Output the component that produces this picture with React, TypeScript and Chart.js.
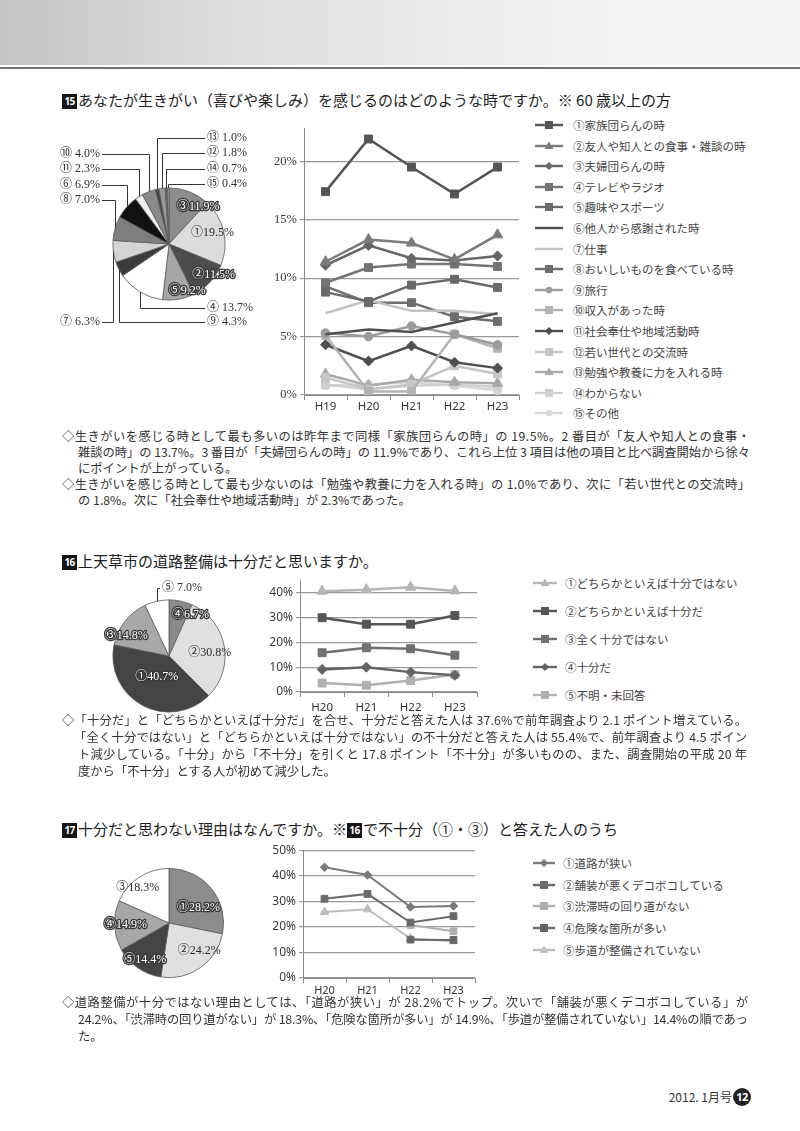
import React, { useEffect, useLayoutEffect, useRef } from 'react';
import { Chart, registerables } from 'chart.js';

Chart.register(...registerables);

const SANS = '"Noto Sans CJK JP", "Noto Sans", sans-serif';
const SERIF = '"Liberation Serif", "DejaVu Serif", "Noto Sans CJK JP", serif';
const LATIN = '"Noto Sans", "Open Sans", sans-serif';

/* ---------------- Q15 data ---------------- */
const q15Years = ['H19', 'H20', 'H21', 'H22', 'H23'];
const q15Names = [
  '①家族団らんの時', '②友人や知人との食事・雑談の時', '③夫婦団らんの時', '④テレビやラジオ',
  '⑤趣味やスポーツ', '⑥他人から感謝された時', '⑦仕事', '⑧おいしいものを食べている時', '⑨旅行',
  '⑩収入があった時', '⑪社会奉仕や地域活動時', '⑫若い世代との交流時', '⑬勉強や教養に力を入れる時',
  '⑭わからない', '⑮その他',
];
const q15Family = [17.4, 21.9, 19.5, 17.2, 19.5];
const q15Friends = [11.4, 13.3, 13.0, 11.6, 13.7];
const q15Couple = [11.1, 12.8, 11.7, 11.5, 11.9];
const q15TvRadio = [9.6, 10.9, 11.2, 11.2, 11.0];
const q15Hobby = [8.8, 8.0, 9.4, 9.9, 9.2];
const q15Thanked = [5.2, 5.6, 5.4, 6.2, 7.0];
const q15Work = [7.0, 8.1, 7.2, 7.2, 6.9];
const q15Food = [9.3, 7.9, 7.9, 6.7, 6.3];
const q15Travel = [5.3, 5.0, 5.9, 5.2, 4.3];
const q15Income = [5.1, 0.3, 0.3, 5.2, 4.0];
const q15Volunteer = [4.3, 2.9, 4.2, 2.8, 2.3];
const q15Youth = [1.5, 0.5, 0.9, 2.5, 1.8];
const q15Study = [1.8, 0.8, 1.3, 1.1, 1.0];
const q15DontKnow = [0.9, 0.5, 0.8, 0.9, 0.7];
const q15Other = [0.8, 0.9, 1.1, 0.8, 0.4];
const q15Series = [q15Family, q15Friends, q15Couple, q15TvRadio, q15Hobby, q15Thanked, q15Work, q15Food,
  q15Travel, q15Income, q15Volunteer, q15Youth, q15Study, q15DontKnow, q15Other];
const q15Colors = ['#555555', '#7a7a7a', '#666666', '#747474', '#6a6a6a', '#505050', '#c2c2c2', '#6e6e6e',
  '#9c9c9c', '#b4b4b4', '#4e4e4e', '#c6c6c6', '#a9a9a9', '#d0d0d0', '#d8d8d8'];
const q15Styles = ['rect', 'triangle', 'rectRot', 'rect', 'rect', 'none', 'none', 'rect', 'circle', 'rect',
  'rectRot', 'rect', 'triangle', 'rect', 'circle'];

// pie (clockwise from 12 o'clock)
const q15PieNames = ['③', '①', '②', '⑤', '④', '⑨', '⑦', '⑧', '⑥', '⑪', '⑩', '⑬', '⑫', '⑭', '⑮'];
const q15PieValues = [11.9, 19.5, 11.5, 9.2, 13.7, 4.3, 6.3, 7.0, 6.9, 2.3, 4.0, 1.0, 1.8, 0.7, 0.4];
const q15PieColors = ['#8c8c8c', '#dcdcdc', '#4d4d4d', '#a6a6a6', '#ffffff', '#3c3c3c', '#d4d4d4', '#7f7f7f',
  '#111111', '#efefef', '#8a8a8a', '#444444', '#999999', '#666666', '#bbbbbb'];

/* ---------------- Q16 data ---------------- */
const q16Years = ['H20', 'H21', 'H22', 'H23'];
const q16Names = ['①どちらかといえば十分ではない', '②どちらかといえば十分だ', '③全く十分ではない', '④十分だ', '⑤不明・未回答'];
const q16RatherNot = [40.6, 41.2, 42.2, 40.7];
const q16RatherYes = [29.9, 27.3, 27.3, 30.8];
const q16NotAtAll = [15.8, 17.8, 17.4, 14.8];
const q16Enough = [9.1, 10.0, 8.0, 6.7];
const q16Unknown = [3.6, 2.7, 4.6, 7.0];
const q16Series = [q16RatherNot, q16RatherYes, q16NotAtAll, q16Enough, q16Unknown];
const q16Colors = ['#b5b5b5', '#555555', '#707070', '#636363', '#b0b0b0'];
const q16Styles = ['triangle', 'rect', 'rect', 'rectRot', 'rect'];

const q16PieNames = ['④', '②', '①', '③', '⑤'];
const q16PieValues = [6.7, 30.8, 40.7, 14.8, 7.0];
const q16PieColors = ['#8a8a8a', '#e0e0e0', '#444444', '#a8a8a8', '#ffffff'];

/* ---------------- Q17 data ---------------- */
const q17Years = ['H20', 'H21', 'H22', 'H23'];
const q17Names = ['①道路が狭い', '②舗装が悪くデコボコしている', '③渋滞時の回り道がない', '④危険な箇所が多い', '⑤歩道が整備されていない'];
const q17Narrow = [43.3, 40.3, 27.8, 28.2];
const q17Bumpy = [31.0, 32.9, 21.7, 24.2];
const q17NoDetour = [null, null, 20.7, 18.3];
const q17Danger = [null, null, 15.0, 14.9];
const q17Sidewalk = [25.8, 26.9, 15.4, 14.4];
const q17Series = [q17Narrow, q17Bumpy, q17NoDetour, q17Danger, q17Sidewalk];
const q17Colors = ['#7a7a7a', '#6a6a6a', '#b0b0b0', '#666666', '#bdbdbd'];
const q17Styles = ['rectRot', 'rect', 'rect', 'rect', 'triangle'];

const q17PieNames = ['①', '②', '⑤', '④', '③'];
const q17PieValues = [28.2, 24.2, 14.4, 14.9, 18.3];
const q17PieColors = ['#8c8c8c', '#e0e0e0', '#444444', '#a8a8a8', '#ffffff'];

/* ---------------- helpers ---------------- */
type InLbl = { i: number; dx: number; dy: number; white: boolean };
type OutLbl = { i: number; x: number; y: number; side: 'left' | 'right' };
type Box = { x: number; y: number; w: number; h: number };

function makePieLabels(names: string[], values: number[], box: Box, inside: InLbl[], outside: OutLbl[], font: string, outFont: string) {
  return {
    id: 'pieLabels',
    afterDatasetsDraw(chart: any) {
      const ctx = chart.ctx as CanvasRenderingContext2D;
      const meta = chart.getDatasetMeta(0);
      ctx.save();
      ctx.textBaseline = 'middle';
      ctx.font = font;
      ctx.lineJoin = 'round';
      for (const l of inside) {
        const a: any = meta.data[l.i];
        const mid = (a.startAngle + a.endAngle) / 2;
        const rr = a.outerRadius * 0.65;
        const x = a.x + Math.cos(mid) * rr + l.dx;
        const y = a.y + Math.sin(mid) * rr + l.dy;
        const t = `${names[l.i]}${values[l.i].toFixed(1)}%`;
        ctx.textAlign = 'center';
        if (l.white) {
          ctx.lineWidth = 2.6;
          ctx.strokeStyle = '#3a3a3a';
          ctx.strokeText(t, x, y);
          ctx.fillStyle = '#ffffff';
        } else {
          ctx.fillStyle = '#2a2a2a';
        }
        ctx.fillText(t, x, y);
      }
      ctx.font = outFont;
      ctx.textAlign = 'left';
      ctx.strokeStyle = '#333';
      ctx.fillStyle = '#333';
      ctx.lineWidth = 1;
      for (const l of outside) {
        const a: any = meta.data[l.i];
        const mid = (a.startAngle + a.endAngle) / 2;
        const ex = Math.round(a.x + Math.cos(mid) * a.outerRadius) + 0.5;
        const ey = a.y + Math.sin(mid) * a.outerRadius;
        const tx = l.x - box.x;
        const ty = l.y - box.y;
        const t = `${names[l.i]} ${values[l.i].toFixed(1)}%`;
        const w = ctx.measureText(t).width;
        ctx.fillText(t, tx, ty);
        const lx = l.side === 'left' ? tx + w + 2 : tx - 2;
        const ly = Math.round(ty) + 0.5;
        ctx.beginPath();
        ctx.moveTo(lx, ly);
        ctx.lineTo(ex, ly);
        ctx.lineTo(ex, ey);
        ctx.stroke();
      }
      ctx.restore();
    },
  };
}

function pieConfig(names: string[], values: number[], colors: string[], box: Box, cx: number, cy: number, r: number, plugin: any) {
  return {
    type: 'pie' as const,
    data: {
      labels: names,
      datasets: [{ data: values, backgroundColor: colors, borderColor: '#5a5a5a', borderWidth: 0.8 }],
    },
    options: {
      animation: false as const,
      responsive: false,
      maintainAspectRatio: false,
      layout: {
        padding: {
          left: cx - r - box.x,
          top: cy - r - box.y,
          right: box.x + box.w - (cx + r),
          bottom: box.y + box.h - (cy + r),
        },
      },
      plugins: { legend: { display: false }, tooltip: { enabled: false } },
    },
    plugins: [plugin],
  };
}

function pointRadius(style: string, scale: number) {
  if (style === 'none') return 0;
  if (style === 'rect') return 5.6 * scale;
  if (style === 'triangle') return 6 * scale;
  if (style === 'rectRot') return 5 * scale;
  return 4.3 * scale;
}

function lineDatasets(names: string[], series: (number | null)[][], colors: string[], styles: string[], width: number, scale: number) {
  return series.map((d, k) => ({
    label: names[k],
    data: d,
    borderColor: colors[k],
    backgroundColor: colors[k],
    pointBackgroundColor: colors[k],
    pointBorderColor: colors[k],
    pointBorderWidth: 1,
    borderWidth: width,
    pointStyle: styles[k] === 'none' ? 'circle' : styles[k],
    pointRadius: pointRadius(styles[k], scale),
    tension: 0,
    spanGaps: false,
  }));
}

function lineConfig(p: {
  labels: string[]; datasets: any[]; max: number; step: number; labelEvery: number;
  yWidth: number; xHeight: number; padTop: number; padRight: number; yFont: any; xPad: number; xSize: number;
}) {
  return {
    type: 'line' as const,
    data: { labels: p.labels, datasets: p.datasets },
    options: {
      animation: false as const,
      responsive: false,
      maintainAspectRatio: false,
      layout: { padding: { top: p.padTop, right: p.padRight, left: 0, bottom: 0 } },
      plugins: { legend: { display: false }, tooltip: { enabled: false } },
      scales: {
        x: {
          type: 'category' as const,
          offset: true,
          grid: { offset: true, drawOnChartArea: false, drawTicks: true, tickLength: 5, color: '#8a8a8a' },
          border: { display: true, color: '#8a8a8a', width: 1 },
          ticks: { font: { family: LATIN, size: p.xSize }, color: '#333', padding: p.xPad, maxRotation: 0, autoSkip: false },
          afterFit: (s: any) => { s.height = p.xHeight; },
        },
        y: {
          min: 0,
          max: p.max,
          ticks: {
            stepSize: p.step,
            includeBounds: false,
            font: p.yFont,
            color: '#3a3a3a',
            padding: 3,
            callback: (v: any) => (Math.round(v) % p.labelEvery === 0 ? `${v}%` : ''),
          },
          grid: { color: '#9a9a9a', lineWidth: 1.2, drawTicks: true, tickLength: 4 },
          border: { display: true, color: '#8a8a8a', width: 1 },
          afterFit: (s: any) => { s.width = p.yWidth; },
        },
      },
    },
  };
}

/* ---------------- layout ---------------- */
const P15: Box = { x: 40, y: 125, w: 262, h: 215 };
const L15: Box = { x: 258, y: 118, w: 268, h: 300 };
const P16: Box = { x: 95, y: 578, w: 160, h: 140 };
const L16: Box = { x: 250, y: 570, w: 235, h: 145 };
const P17: Box = { x: 95, y: 860, w: 150, h: 125 };
const L17: Box = { x: 250, y: 840, w: 235, h: 160 };

function Marker({ color, style, w }: { color: string; style: string; w: number }) {
  const cx = w / 2;
  const cy = 6;
  let shape: any = null;
  if (style === 'rect') shape = <rect x={cx - 4} y={cy - 4} width={8} height={8} fill={color} />;
  if (style === 'triangle') shape = <polygon points={`${cx},${cy - 4.5} ${cx + 4.5},${cy + 3} ${cx - 4.5},${cy + 3}`} fill={color} />;
  if (style === 'rectRot') shape = <polygon points={`${cx},${cy - 4} ${cx + 4},${cy} ${cx},${cy + 4} ${cx - 4},${cy}`} fill={color} />;
  if (style === 'circle') shape = <circle cx={cx} cy={cy} r={3.3} fill={color} />;
  return (
    <svg width={w} height={12} style={{ display: 'block', flex: 'none' }}>
      <line x1={0} y1={cy} x2={w} y2={cy} stroke={color} strokeWidth={2.4} />
      {shape}
    </svg>
  );
}

function Legend({ names, colors, styles, x, textX, y0, dy, markerW }: any) {
  return (
    <>
      {names.map((n: string, k: number) => (
        <div key={k} style={{ position: 'absolute', left: x, top: y0 + k * dy - 9, height: 18, display: 'flex', alignItems: 'center', whiteSpace: 'nowrap' }}>
          <Marker color={colors[k]} style={styles[k]} w={markerW} />
          <span style={{ marginLeft: textX - x - markerW, fontSize: 11.5, color: '#444', lineHeight: '18px' }}>{n}</span>
        </div>
      ))}
    </>
  );
}

function Badge({ n }: { n: string }) {
  return (
    <span style={{
      display: 'inline-block', background: '#151515', color: '#fff', fontSize: 10, fontWeight: 700,
      width: 15, height: 15, lineHeight: '15px', textAlign: 'center', verticalAlign: '1px', letterSpacing: -0.6,
      fontFamily: LATIN, marginRight: 1,
    }}>{n}</span>
  );
}

function Title({ y, children }: any) {
  return (
    <div style={{ position: 'absolute', left: 62, top: y - 10, height: 20, lineHeight: '20px', fontSize: 15, color: '#1e1e1e', whiteSpace: 'nowrap' }}>
      {children}
    </div>
  );
}

function TextLine({ x, right, y, text, full }: { x: number; right: number; y: number; text: string; full?: boolean }) {
  return (
    <div style={{
      position: 'absolute', left: x, top: y - 9, height: 18, lineHeight: '18px', fontSize: 12.3,
      color: '#333', whiteSpace: 'nowrap',
    }}>
      <span data-fit={full ? String(right - x) : undefined} style={{ display: 'inline-block', whiteSpace: 'nowrap' }}>{text}</span>
    </div>
  );
}

const q15Text = [
  { x: 62, y: 436, full: true, t: '◇生きがいを感じる時として最も多いのは昨年まで同様「家族団らんの時」の 19.5%。2 番目が「友人や知人との食事・' },
  { x: 78, y: 452, full: true, t: '雑談の時」の 13.7%。3 番目が「夫婦団らんの時」の 11.9%であり、これら上位 3 項目は他の項目と比べ調査開始から徐々' },
  { x: 78, y: 468, full: false, t: 'にポイントが上がっている。' },
  { x: 62, y: 484, full: true, t: '◇生きがいを感じる時として最も少ないのは「勉強や教養に力を入れる時」の 1.0%であり、次に「若い世代との交流時」' },
  { x: 78, y: 500, full: false, t: 'の 1.8%。次に「社会奉仕や地域活動時」が 2.3%であった。' },
];
const q16Text = [
  { x: 62, y: 720, full: true, t: '◇「十分だ」と「どちらかといえば十分だ」を合せ、十分だと答えた人は 37.6%で前年調査より 2.1 ポイント増えている。' },
  { x: 74, y: 737, full: true, t: '「全く十分ではない」と「どちらかといえば十分ではない」の不十分だと答えた人は 55.4%で、前年調査より 4.5 ポイン' },
  { x: 78, y: 754, full: true, t: 'ト減少している。「十分」から「不十分」を引くと 17.8 ポイント「不十分」が多いものの、また、調査開始の平成 20 年' },
  { x: 78, y: 771, full: false, t: '度から「不十分」とする人が初めて減少した。' },
];
const q17Text = [
  { x: 62, y: 1002, full: true, t: '◇道路整備が十分ではない理由としては、「道路が狭い」が 28.2%でトップ。次いで「舗装が悪くデコボコしている」が' },
  { x: 78, y: 1019, full: true, t: '24.2%、「渋滞時の回り道がない」が 18.3%、「危険な箇所が多い」が 14.9%、「歩道が整備されていない」14.4%の順であっ' },
  { x: 78, y: 1036, full: false, t: 'た。' },
];

function fitLines(root: HTMLElement) {
  root.querySelectorAll<HTMLElement>('[data-fit]').forEach((el) => {
    const target = Number(el.dataset.fit);
    el.style.letterSpacing = '0px';
    const w = el.getBoundingClientRect().width;
    const n = Array.from(el.textContent || '').length;
    if (n > 1) el.style.letterSpacing = `${(target - w) / (n - 1)}px`;
  });
}

export default function App() {
  const rootRef = useRef<HTMLDivElement>(null);
  const p15 = useRef<HTMLCanvasElement>(null);
  const l15 = useRef<HTMLCanvasElement>(null);
  const p16 = useRef<HTMLCanvasElement>(null);
  const l16 = useRef<HTMLCanvasElement>(null);
  const p17 = useRef<HTMLCanvasElement>(null);
  const l17 = useRef<HTMLCanvasElement>(null);

  useLayoutEffect(() => {
    if (!rootRef.current) return;
    fitLines(rootRef.current);
    const r = rootRef.current;
    if ((document as any).fonts && (document as any).fonts.ready) {
      (document as any).fonts.ready.then(() => fitLines(r));
    }
  }, []);

  useEffect(() => {
    const charts: Chart[] = [];
    const pieFont = `12px ${SERIF}`;

    charts.push(new Chart(p15.current!, pieConfig(q15PieNames, q15PieValues, q15PieColors, P15, 169, 244, 56.5,
      makePieLabels(q15PieNames, q15PieValues, P15,
        [
          { i: 0, dx: 16, dy: -3, white: true },
          { i: 1, dx: 8, dy: -3, white: false },
          { i: 2, dx: 18, dy: 6, white: true },
          { i: 3, dx: 12, dy: 11, white: true },
        ],
        [
          { i: 11, x: 207, y: 138, side: 'right' },
          { i: 12, x: 207, y: 153, side: 'right' },
          { i: 13, x: 207, y: 169, side: 'right' },
          { i: 14, x: 207, y: 184, side: 'right' },
          { i: 10, x: 60, y: 154, side: 'left' },
          { i: 9, x: 60, y: 169, side: 'left' },
          { i: 8, x: 60, y: 185, side: 'left' },
          { i: 7, x: 60, y: 200, side: 'left' },
          { i: 4, x: 207, y: 308, side: 'right' },
          { i: 5, x: 207, y: 322, side: 'right' },
          { i: 6, x: 60, y: 322, side: 'left' },
        ], pieFont, pieFont)) as any));

    charts.push(new Chart(l15.current!, lineConfig({
      labels: q15Years,
      datasets: lineDatasets(q15Names, q15Series, q15Colors, q15Styles, 2.5, 1),
      max: 22.8, step: 5, labelEvery: 5, yWidth: 46, xHeight: 23, padTop: 9, padRight: 6,
      yFont: { family: SERIF, size: 12.5 }, xPad: 0, xSize: 11.5,
    }) as any));

    charts.push(new Chart(p16.current!, pieConfig(q16PieNames, q16PieValues, q16PieColors, P16, 169, 656, 56.5,
      makePieLabels(q16PieNames, q16PieValues, P16,
        [
          { i: 0, dx: 14, dy: -5, white: true },
          { i: 1, dx: 5, dy: 3, white: false },
          { i: 2, dx: 5, dy: -11, white: true },
          { i: 3, dx: -14, dy: 2, white: true },
        ],
        [{ i: 4, x: 162, y: 588, side: 'right' }], pieFont, pieFont)) as any));

    charts.push(new Chart(l16.current!, lineConfig({
      labels: q16Years,
      datasets: lineDatasets(q16Names, q16Series, q16Colors, q16Styles, 2.5, 1),
      max: 45, step: 5, labelEvery: 10, yWidth: 50, xHeight: 23, padTop: 8, padRight: 8,
      yFont: { family: LATIN, size: 12 }, xPad: 4, xSize: 11.5,
    }) as any));

    charts.push(new Chart(p17.current!, pieConfig(q17PieNames, q17PieValues, q17PieColors, P17, 169, 923, 55,
      makePieLabels(q17PieNames, q17PieValues, P17,
        [
          { i: 0, dx: 2, dy: 7, white: true },
          { i: 1, dx: 10, dy: -1, white: false },
          { i: 2, dx: -4, dy: 8, white: true },
          { i: 3, dx: -8, dy: 0, white: true },
          { i: 4, dx: -12, dy: -5, white: false },
        ],
        [], pieFont, pieFont)) as any));

    charts.push(new Chart(l17.current!, lineConfig({
      labels: q17Years,
      datasets: lineDatasets(q17Names, q17Series, q17Colors, q17Styles, 2, 0.85),
      max: 50, step: 5, labelEvery: 10, yWidth: 53, xHeight: 22, padTop: 9, padRight: 10,
      yFont: { family: LATIN, size: 12 }, xPad: 1, xSize: 11,
    }) as any));

    return () => charts.forEach((c) => c.destroy());
  }, []);

  const cv = (b: Box) => ({ position: 'absolute' as const, left: b.x, top: b.y, width: b.w, height: b.h });

  return (
    <div ref={rootRef} style={{ position: 'absolute', left: 0, top: 0, width: 800, height: 1131, background: '#fff', overflow: 'hidden', fontFamily: SANS, color: '#333' }}>
      {/* header band */}
      <div style={{ position: 'absolute', left: 0, top: 0, width: 800, height: 65, background: 'linear-gradient(90deg, #c4c4c4 0%, #dadada 25%, #ebebeb 55%, #f3f3f3 80%, #f5f5f5 100%)' }} />
      <div style={{ position: 'absolute', left: 0, top: 67, width: 800, height: 2, background: '#727272' }} />

      {/* Q15 */}
      <Title y={100}><Badge n="15" />あなたが生きがい（喜びや楽しみ）を感じるのはどのような時ですか。※ 60 歳以上の方</Title>
      <canvas ref={p15} width={P15.w} height={P15.h} style={cv(P15)} />
      <canvas ref={l15} width={L15.w} height={L15.h} style={cv(L15)} />
      <Legend names={q15Names} colors={q15Colors} styles={q15Styles} x={535} textX={573} y0={125} dy={20.6} markerW={28} />
      {q15Text.map((l, k) => <TextLine key={k} x={l.x} right={750} y={l.y} text={l.t} full={l.full} />)}

      {/* Q16 */}
      <Title y={561}><Badge n="16" />上天草市の道路整備は十分だと思いますか。</Title>
      <canvas ref={p16} width={P16.w} height={P16.h} style={cv(P16)} />
      <canvas ref={l16} width={L16.w} height={L16.h} style={cv(L16)} />
      <Legend names={q16Names} colors={q16Colors} styles={q16Styles} x={533} textX={565} y0={583} dy={28} markerW={24} />
      {q16Text.map((l, k) => <TextLine key={k} x={l.x} right={747} y={l.y} text={l.t} full={l.full} />)}

      {/* Q17 */}
      <Title y={829}><Badge n="17" />十分だと思わない理由はなんですか。※<Badge n="16" />で不十分（①・③）と答えた人のうち</Title>
      <canvas ref={p17} width={P17.w} height={P17.h} style={cv(P17)} />
      <canvas ref={l17} width={L17.w} height={L17.h} style={cv(L17)} />
      <Legend names={q17Names} colors={q17Colors} styles={q17Styles} x={533} textX={563} y0={863} dy={21.7} markerW={22} />
      {q17Text.map((l, k) => <TextLine key={k} x={l.x} right={748} y={l.y} text={l.t} full={l.full} />)}

      {/* footer */}
      <div style={{ position: 'absolute', left: 640, top: 1088, width: 92, height: 18, lineHeight: '18px', fontSize: 12, textAlign: 'right', color: '#333' }}>2012. 1月号</div>
      <div style={{ position: 'absolute', left: 733, top: 1088, width: 18, height: 18, borderRadius: 9, background: '#222', color: '#fff', fontSize: 11, fontWeight: 700, lineHeight: '18px', textAlign: 'center', fontFamily: LATIN, letterSpacing: -0.5 }}>12</div>
    </div>
  );
}
